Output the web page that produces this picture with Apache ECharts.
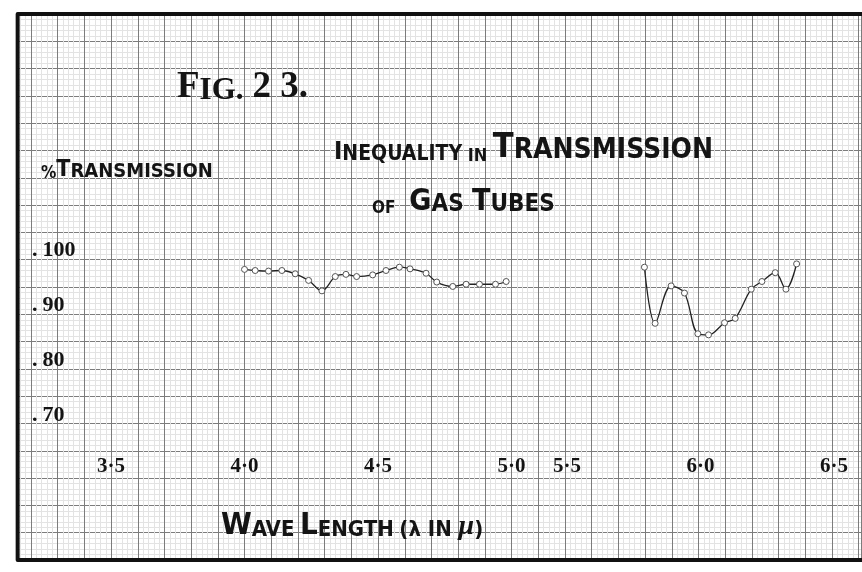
<!DOCTYPE html>
<html>
<head>
<meta charset="utf-8">
<title>Fig. 23</title>
<script src="https://cdn.jsdelivr.net/npm/echarts@6/dist/echarts.min.js"></script>
<style>
  html, body { margin: 0; padding: 0; background: #fff; }
  #chart { width: 862px; height: 572px; }
</style>
</head>
<body>
<div id="chart"></div>
<script>
// 4.0 - 5.0 μ run
const leftWave = [4.00, 4.04, 4.09, 4.14, 4.19, 4.24, 4.29, 4.34, 4.38, 4.42, 4.48, 4.53, 4.58, 4.62, 4.68, 4.72, 4.78, 4.83, 4.88, 4.94, 4.98]
const leftTrans = [97.2, 97.0, 96.9, 97.0, 96.4, 95.2, 93.3, 95.9, 96.3, 95.9, 96.2, 97.0, 97.6, 97.3, 96.5, 94.9, 94.1, 94.5, 94.5, 94.5, 95.0]
// 5.8 - 6.4 μ run
const rightWave = [5.79, 5.83, 5.89, 5.94, 5.99, 6.03, 6.09, 6.13, 6.19, 6.23, 6.28, 6.32, 6.36]
const rightTrans = [97.6, 87.4, 94.2, 92.9, 85.5, 85.3, 87.5, 88.3, 93.6, 95.0, 96.6, 93.6, 98.2]

const leftTicks = [3.5, 4.0, 4.5, 5.0]
const rightTicks = [5.5, 6.0, 6.5]
const yTicks = [70, 80, 90, 100]

const serif = "'Liberation Serif', 'DejaVu Serif', serif"
const sans = "'Liberation Sans Narrow', 'DejaVu Sans Condensed', 'Liberation Sans', sans-serif"
const ink = '#141414'

const pxPerUnit = 267 // px per 1 μ
const pxPerPct = 5.5 // px per 1 %
const yMin = 60
const yMax = 100
const plotTop = 254
const plotHeight = (yMax - yMin) * pxPerPct
const leftMin = 3.2
const leftMax = 5.0
const rightMin = 5.5
const rightMax = 6.5

// paper sheet: squares of 0.1 μ, frame open on the right
const sq = pxPerUnit / 10
const paperLeft = 17.65
const paperTop = 14
const paperCols = 31.6
const paperRows = 20
const paperRowH = 27.3

const chart = echarts.init(document.getElementById('chart'))

function toPairs(xs, ys) {
  return xs.map((x, i) => [x, ys[i]])
}
function waveLabel(v) {
  return v.toFixed(1).replace('.', '·')
}

const hidden = { show: false }

function paperAxis(extra) {
  return Object.assign({
    gridIndex: 0,
    type: 'value',
    axisLine: hidden,
    axisTick: hidden,
    axisLabel: hidden,
    splitLine: { show: true, lineStyle: { color: '#7c7c7c', width: 1 } },
    minorTick: { show: false, splitNumber: 5 },
    minorSplitLine: { show: true, lineStyle: { color: '#e3e3e3', width: 1 } },
  }, extra)
}

function waveAxis(gridIndex, min, max, ticks) {
  return {
    gridIndex,
    type: 'value',
    min,
    max,
    axisLine: hidden,
    axisTick: hidden,
    splitLine: hidden,
    axisLabel: {
      customValues: ticks,
      formatter: waveLabel,
      margin: -18,
      color: ink,
      fontFamily: serif,
      fontWeight: 'bold',
      fontSize: 21,
    },
  }
}

function transAxis(gridIndex, showLabels) {
  return {
    gridIndex,
    type: 'value',
    min: yMin,
    max: yMax,
    axisLine: hidden,
    axisTick: hidden,
    splitLine: hidden,
    axisLabel: showLabels
      ? {
          inside: true,
          margin: 1,
          customValues: yTicks,
          padding: [0, 0, 8, 0],
          formatter: v => `{d|.}{n|${v}}`,
          rich: {
            d: { fontFamily: serif, fontWeight: 'bold', fontSize: 22, color: ink, padding: [0, 5, 0, 0] },
            n: { fontFamily: serif, fontWeight: 'bold', fontSize: 22, color: ink },
          },
        }
      : hidden,
  }
}

function runSeries(axisIndex, xs, ys) {
  return {
    type: 'line',
    xAxisIndex: axisIndex,
    yAxisIndex: axisIndex,
    data: toPairs(xs, ys),
    smooth: 0.35,
    symbol: 'circle',
    symbolSize: 6,
    itemStyle: { color: '#fff', borderColor: '#555', borderWidth: 1 },
    lineStyle: { color: '#222', width: 1.3 },
    z: 5,
  }
}

function capsText(size) {
  return { fontFamily: sans, fontWeight: 'bold', fontSize: size, color: ink, verticalAlign: 'bottom' }
}

const paperRight = paperLeft + paperCols * sq
const paperBottom = paperTop + paperRows * paperRowH

const chartOptions = {
  animation: false,
  backgroundColor: '#fff',
  title: [
    {
      text: '{a|F}{b|IG.}{s|  }{a|2 3.}',
      left: 172,
      top: 64,
      textStyle: {
        rich: {
          a: { fontFamily: serif, fontWeight: 'bold', fontSize: 37, color: ink, verticalAlign: 'bottom' },
          b: { fontFamily: serif, fontWeight: 'bold', fontSize: 31, color: ink, verticalAlign: 'bottom' },
          s: { fontSize: 16 },
        },
      },
    },
    {
      text: '{a|I}{b|NEQUALITY}{s| }{c|IN}{s| }{d|T}{e|RANSMISSION}',
      left: 329,
      top: 126,
      textStyle: {
        rich: {
          a: capsText(25),
          b: capsText(21),
          c: capsText(18),
          d: capsText(34),
          e: capsText(28),
          s: { fontSize: 20 },
        },
      },
    },
    {
      text: '{c|OF}{s|     }{a|G}{b|AS}{s|   }{a|T}{b|UBES}',
      left: 367,
      top: 182,
      textStyle: {
        rich: {
          a: capsText(30),
          b: capsText(24),
          c: capsText(17),
          s: { fontSize: 10 },
        },
      },
    },
    {
      text: '{p|%}{a|T}{b|RANSMISSION}',
      left: 36,
      top: 154,
      textStyle: {
        rich: {
          p: capsText(17),
          a: capsText(23),
          b: capsText(20),
        },
      },
    },
    {
      text: '{a|W}{b|AVE}{s|  }{a|L}{b|ENGTH}{s|  }{b|(λ IN }{m|μ}{b|)}',
      left: 216,
      top: 505,
      textStyle: {
        rich: {
          a: capsText(31),
          b: capsText(22),
          m: { fontFamily: serif, fontStyle: 'italic', fontSize: 28, color: ink, verticalAlign: 'bottom' },
          s: { fontSize: 10 },
        },
      },
    },
  ],
  grid: [
    { left: paperLeft, top: paperTop, width: paperCols * sq, height: paperRows * paperRowH, show: true, backgroundColor: '#fff', borderWidth: 0 },
    { left: 111 - (3.5 - leftMin) * pxPerUnit, top: plotTop, width: (leftMax - leftMin) * pxPerUnit, height: plotHeight },
    { left: 567, top: plotTop, width: (rightMax - rightMin) * pxPerUnit, height: plotHeight },
  ],
  // thick ink frame: top, left and bottom edges
  graphic: [
    {
      type: 'polyline',
      z: 10,
      shape: { points: [[paperRight + 2, paperTop], [paperLeft, paperTop], [paperLeft, paperBottom], [paperRight + 2, paperBottom]] },
      style: { fill: null, stroke: '#111', lineWidth: 4, lineJoin: 'round' },
    },
  ],
  xAxis: [
    paperAxis({ min: -0.5, max: paperCols - 0.5, splitNumber: 32, minInterval: 1, maxInterval: 1 }),
    waveAxis(1, leftMin, leftMax, leftTicks),
    waveAxis(2, rightMin, rightMax, rightTicks),
  ],
  yAxis: [
    paperAxis({ inverse: true, min: 0, max: paperRows, interval: 1 }),
    transAxis(1, true),
    transAxis(2, false),
  ],
  series: [
    runSeries(1, leftWave, leftTrans),
    runSeries(2, rightWave, rightTrans),
  ],
}

chart.setOption(chartOptions)
</script>
</body>
</html>
